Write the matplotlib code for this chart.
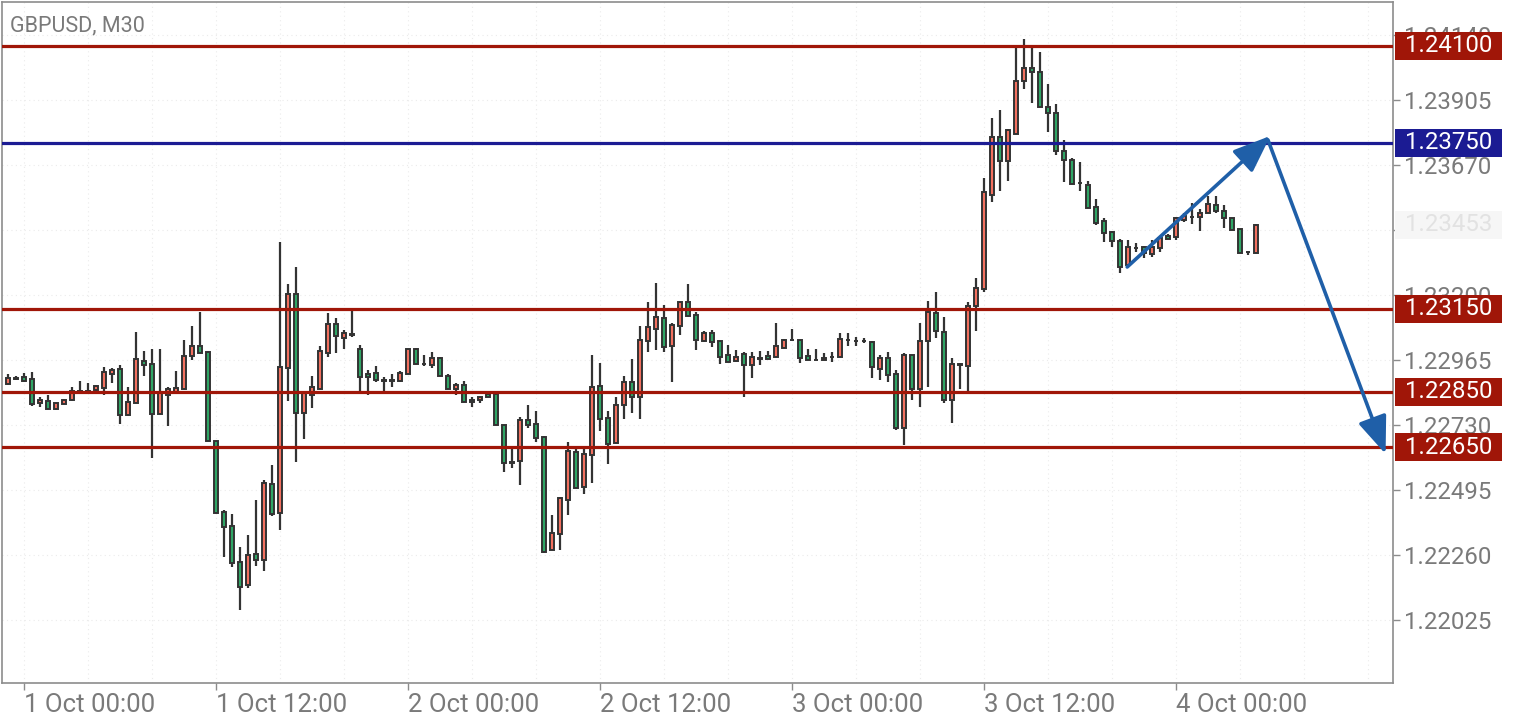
import matplotlib
matplotlib.use('Agg')
import matplotlib.pyplot as plt
import numpy as np
from matplotlib.patches import Rectangle
from matplotlib.transforms import blended_transform_factory

# ---------------- data (GBPUSD M30, 30 Sep 23:00 -> 4 Oct 05:00) ----------------
opens = [
    1.22878, 1.22897, 1.22903, 1.22896, 1.22809, 1.22816, 1.22788, 1.22806, 1.22820, 1.22852,
    1.22852, 1.22856, 1.22863, 1.22914, 1.22932, 1.22766, 1.22809, 1.22961, 1.22950, 1.22769,
    1.22838, 1.22849, 1.22860, 1.22979, 1.23015, 1.22994, 1.22672, 1.22415, 1.22365, 1.22234,
    1.22151, 1.22263, 1.22242, 1.22516, 1.22411, 1.22936, 1.23203, 1.22773, 1.22838, 1.22860,
    1.22990, 1.23095, 1.23044, 1.23059, 1.23004, 1.22914, 1.22918, 1.22892, 1.22892, 1.22889,
    1.22914, 1.23004, 1.22950, 1.22946, 1.22972, 1.22907, 1.22860, 1.22874, 1.22820, 1.22820,
    1.22842, 1.22842, 1.22730, 1.22596, 1.22600, 1.22748, 1.22733, 1.22686, 1.22278, 1.22336,
    1.22459, 1.22632, 1.22506, 1.22621, 1.22870, 1.22755, 1.22665, 1.22802, 1.22885, 1.22831,
    1.23033, 1.23077, 1.23116, 1.23015, 1.23087, 1.23174, 1.23127, 1.23033, 1.23062, 1.23033,
    1.22983, 1.22961, 1.22986, 1.22946, 1.22972, 1.22979, 1.22975, 1.23008, 1.23037, 1.23037,
    1.22979, 1.22965, 1.22965, 1.22975, 1.22975, 1.23037, 1.23033, 1.23033, 1.23030, 1.22932,
    1.22972, 1.22914, 1.22719, 1.22983, 1.22860, 1.23033, 1.23135, 1.23066, 1.22820, 1.22950,
    1.22943, 1.23160, 1.23221, 1.23561, 1.23771, 1.23684, 1.23782, 1.23973, 1.24020, 1.24006,
    1.23879, 1.23857, 1.23720, 1.23688, 1.23604, 1.23597, 1.23518, 1.23467, 1.23427, 1.23395,
    1.23308, 1.23369, 1.23373, 1.23348, 1.23369, 1.23413, 1.23409, 1.23471, 1.23482, 1.23482,
    1.23496, 1.23525, 1.23503, 1.23478, 1.23438, 1.23355, 1.23351,
]
highs = [
    1.22914, 1.22907, 1.22918, 1.22921, 1.22831, 1.22838, 1.22809, 1.22824, 1.22867, 1.22889,
    1.22881, 1.22874, 1.22939, 1.22936, 1.22946, 1.22867, 1.23066, 1.22997, 1.23004, 1.23004,
    1.22867, 1.22925, 1.23037, 1.23087, 1.23138, 1.22997, 1.22672, 1.22422, 1.22408, 1.22289,
    1.22332, 1.22459, 1.22531, 1.22585, 1.23391, 1.23239, 1.23301, 1.22845, 1.22907, 1.23015,
    1.23135, 1.23116, 1.23073, 1.23145, 1.23019, 1.22928, 1.22943, 1.22903, 1.22914, 1.22925,
    1.23004, 1.23008, 1.22983, 1.22994, 1.22975, 1.22914, 1.22881, 1.22889, 1.22831, 1.22831,
    1.22849, 1.22842, 1.22730, 1.22646, 1.22759, 1.22802, 1.22780, 1.22690, 1.22404, 1.22470,
    1.22668, 1.22646, 1.22646, 1.22983, 1.22954, 1.22780, 1.22831, 1.22907, 1.22968, 1.23087,
    1.23174, 1.23243, 1.23163, 1.23098, 1.23174, 1.23239, 1.23138, 1.23070, 1.23073, 1.23033,
    1.23019, 1.23001, 1.22994, 1.22994, 1.22997, 1.22997, 1.23098, 1.23041, 1.23077, 1.23037,
    1.23004, 1.23004, 1.22990, 1.22994, 1.23062, 1.23062, 1.23048, 1.23044, 1.23033, 1.22983,
    1.22994, 1.22928, 1.22990, 1.22983, 1.23098, 1.23178, 1.23210, 1.23120, 1.22972, 1.22954,
    1.23174, 1.23261, 1.23623, 1.23839, 1.23868, 1.23800, 1.24096, 1.24125, 1.24096, 1.24078,
    1.23962, 1.23890, 1.23760, 1.23695, 1.23680, 1.23612, 1.23547, 1.23478, 1.23431, 1.23402,
    1.23398, 1.23388, 1.23377, 1.23398, 1.23409, 1.23420, 1.23482, 1.23496, 1.23532, 1.23510,
    1.23557, 1.23557, 1.23525, 1.23478, 1.23438, 1.23359, 1.23456,
]
lows = [
    1.22874, 1.22892, 1.22885, 1.22798, 1.22795, 1.22788, 1.22785, 1.22806, 1.22816, 1.22845,
    1.22842, 1.22842, 1.22838, 1.22881, 1.22733, 1.22762, 1.22809, 1.22907, 1.22610, 1.22769,
    1.22726, 1.22849, 1.22860, 1.22965, 1.22990, 1.22672, 1.22411, 1.22252, 1.22216, 1.22061,
    1.22140, 1.22220, 1.22202, 1.22401, 1.22350, 1.22816, 1.22596, 1.22679, 1.22791, 1.22860,
    1.22975, 1.22990, 1.23004, 1.23048, 1.22845, 1.22838, 1.22885, 1.22845, 1.22867, 1.22885,
    1.22914, 1.22950, 1.22943, 1.22936, 1.22907, 1.22860, 1.22838, 1.22813, 1.22795, 1.22809,
    1.22831, 1.22730, 1.22560, 1.22574, 1.22513, 1.22719, 1.22668, 1.22267, 1.22278, 1.22278,
    1.22404, 1.22502, 1.22480, 1.22520, 1.22708, 1.22589, 1.22665, 1.22751, 1.22773, 1.22751,
    1.22994, 1.23001, 1.22994, 1.22885, 1.23055, 1.23120, 1.23001, 1.23030, 1.23012, 1.22950,
    1.22957, 1.22957, 1.22831, 1.22899, 1.22946, 1.22968, 1.22975, 1.23008, 1.23033, 1.22954,
    1.22965, 1.22963, 1.22963, 1.22957, 1.22975, 1.23015, 1.23015, 1.23026, 1.22899, 1.22892,
    1.22885, 1.22711, 1.22657, 1.22820, 1.22795, 1.22867, 1.23044, 1.22809, 1.22737, 1.22860,
    1.22845, 1.23070, 1.23210, 1.23536, 1.23576, 1.23612, 1.23782, 1.23944, 1.23894, 1.23879,
    1.23789, 1.23706, 1.23608, 1.23601, 1.23576, 1.23514, 1.23453, 1.23391, 1.23373, 1.23279,
    1.23308, 1.23355, 1.23333, 1.23337, 1.23355, 1.23402, 1.23398, 1.23463, 1.23456, 1.23431,
    1.23496, 1.23496, 1.23442, 1.23435, 1.23351, 1.23344, 1.23351,
]
closes = [
    1.22899, 1.22897, 1.22889, 1.22806, 1.22820, 1.22788, 1.22809, 1.22820, 1.22852, 1.22849,
    1.22849, 1.22870, 1.22921, 1.22928, 1.22766, 1.22813, 1.22968, 1.22946, 1.22769, 1.22845,
    1.22860, 1.22863, 1.22979, 1.23015, 1.22990, 1.22672, 1.22411, 1.22361, 1.22231, 1.22144,
    1.22260, 1.22242, 1.22520, 1.22408, 1.22939, 1.23203, 1.22773, 1.22845, 1.22867, 1.22997,
    1.23095, 1.23051, 1.23062, 1.23055, 1.22903, 1.22903, 1.22892, 1.22890, 1.22890, 1.22918,
    1.23004, 1.22950, 1.22949, 1.22972, 1.22907, 1.22860, 1.22874, 1.22813, 1.22813, 1.22831,
    1.22831, 1.22730, 1.22592, 1.22594, 1.22748, 1.22730, 1.22683, 1.22271, 1.22339, 1.22466,
    1.22636, 1.22502, 1.22625, 1.22867, 1.22751, 1.22661, 1.22802, 1.22885, 1.22831, 1.23037,
    1.23084, 1.23120, 1.23012, 1.23091, 1.23174, 1.23124, 1.23037, 1.23062, 1.23030, 1.22975,
    1.22957, 1.22975, 1.22946, 1.22975, 1.22970, 1.22968, 1.23015, 1.23037, 1.23036, 1.22972,
    1.22965, 1.22964, 1.22972, 1.22974, 1.23041, 1.23036, 1.23032, 1.23032, 1.22939, 1.22972,
    1.22910, 1.22719, 1.22983, 1.22860, 1.23033, 1.23138, 1.23070, 1.22820, 1.22950, 1.22948,
    1.23160, 1.23225, 1.23572, 1.23771, 1.23684, 1.23796, 1.23973, 1.24020, 1.24006, 1.23879,
    1.23857, 1.23720, 1.23688, 1.23601, 1.23603, 1.23514, 1.23460, 1.23423, 1.23395, 1.23301,
    1.23373, 1.23368, 1.23351, 1.23373, 1.23406, 1.23402, 1.23478, 1.23485, 1.23481, 1.23496,
    1.23529, 1.23503, 1.23478, 1.23435, 1.23351, 1.23354, 1.23453,
]

x_tick_pos = [2, 26, 50, 74, 98, 122, 146]
x_tick_labels = ["1 Oct 00:00", "1 Oct 12:00", "2 Oct 00:00", "2 Oct 12:00",
                 "3 Oct 00:00", "3 Oct 12:00", "4 Oct 00:00"]
y_ticks = [1.22025, 1.22260, 1.22495, 1.22730, 1.22965, 1.23200, 1.23435, 1.23670, 1.23905, 1.24140]

red_levels = [1.24100, 1.23150, 1.22850, 1.22650]
blue_levels = [1.23750]
bid_price = 1.23453

# drawn trend arrows: (bar index, price)
arrow1_start = (139.9, 1.23301)
arrow1_end = (157.8, 1.23775)
arrow2_start = (157.5, 1.23760)
arrow2_end = (172.2, 1.22625)

# ---------------- style ----------------
plt.rcParams['font.family'] = ['Roboto', 'DejaVu Sans']
RED_BODY = '#F2705F'
GREEN_BODY = '#2FA565'
EDGE = '#333333'
LVL_RED = '#A01608'
LVL_BLUE = '#1B1B93'
ARROW = '#1F5FA8'
GRAY_TXT = '#7A7A7A'
SPINE = '#8C8C8C'

W, H = 1520, 720
fig = plt.figure(figsize=(W / 100, H / 100), dpi=100)
ax = fig.add_axes([2 / W, 37 / H, 1391 / W, 681 / H])

o = np.array(opens); h = np.array(highs); l = np.array(lows); c = np.array(closes)
x = np.arange(len(o))

colors = np.where(c > o, RED_BODY, np.where(c < o, GREEN_BODY, EDGE))
ax.vlines(x, l, h, color=EDGE, lw=1.6, zorder=2)
body_h = np.maximum(np.abs(c - o), 0.000012)
ax.bar(x, body_h, bottom=np.minimum(o, c), width=0.5, color=colors,
       edgecolor=EDGE, linewidth=1.4, zorder=3)

ax.set_xlim(-0.75, 173.125)
ax.set_ylim(1.21797, 1.24259)

# grid
ax.set_xticks(x_tick_pos)
ax.set_xticklabels(x_tick_labels)
ax.set_xticks(np.arange(2, 174, 8), minor=True)
ax.set_yticks(y_ticks)
# the 1.23435 tick label sits fully under the bid-price label, so it is left blank
ax.set_yticklabels(["" if abs(v - 1.23435) < 1e-9 else f"{v:.5f}" for v in y_ticks])
ax.grid(which='both', axis='x', color='#ebebeb', lw=0.8, ls=(0, (1, 3)), zorder=0)
ax.grid(which='major', axis='y', color='#ebebeb', lw=0.8, ls=(0, (1, 3)), zorder=0)

ax.tick_params(axis='y', which='major', left=False, right=True, labelleft=False, labelright=True,
               length=5, width=1, color=SPINE, labelcolor=GRAY_TXT, labelsize=17.3, pad=3)
ax.tick_params(axis='x', which='major', length=5, width=1, color=SPINE, labelcolor=GRAY_TXT,
               labelsize=18.5, pad=2)
ax.tick_params(axis='x', which='minor', length=0)
for lab in ax.get_xticklabels():
    lab.set_ha('left')
for sp in ax.spines.values():
    sp.set_color(SPINE)
    sp.set_linewidth(1.2)

# levels
for lv in red_levels:
    ax.axhline(lv, color=LVL_RED, lw=2.3, zorder=4)
for lv in blue_levels:
    ax.axhline(lv, color=LVL_BLUE, lw=2.3, zorder=4)

trans = blended_transform_factory(ax.transAxes, ax.transData)
px_w = 1 / 1391.0
box_h = 28 * (1.24259 - 1.21797) / 681
box_x0 = 1 + 2 * px_w
box_w = 107 * px_w

def price_box(val, fc, tc):
    r = Rectangle((box_x0, val - box_h / 2), box_w, box_h, transform=trans,
                  facecolor=fc, edgecolor='none', clip_on=False, zorder=6)
    ax.add_patch(r)
    ax.text(box_x0 + box_w / 2, val, f"{val:.5f}", transform=trans, ha='center', va='center',
            color=tc, fontsize=17.3, zorder=7, clip_on=False)

price_box(bid_price, '#F6F6F6', '#E2E2E2')
for lv in red_levels:
    price_box(lv, LVL_RED, 'white')
for lv in blue_levels:
    price_box(lv, LVL_BLUE, 'white')

# arrows
for s, e in [(arrow1_start, arrow1_end), (arrow2_start, arrow2_end)]:
    ax.annotate('', xy=e, xytext=s, zorder=5,
                arrowprops=dict(arrowstyle='-|>,head_length=1.15,head_width=0.45',
                                color=ARROW, lw=2.6, mutation_scale=20,
                                shrinkA=0, shrinkB=0))

fig.text(10 / W, 1 - 26 / H, "GBPUSD, M30", ha='left', va='center', fontsize=15.5, color=GRAY_TXT)

fig.savefig('out.png', dpi=100, facecolor='white')
